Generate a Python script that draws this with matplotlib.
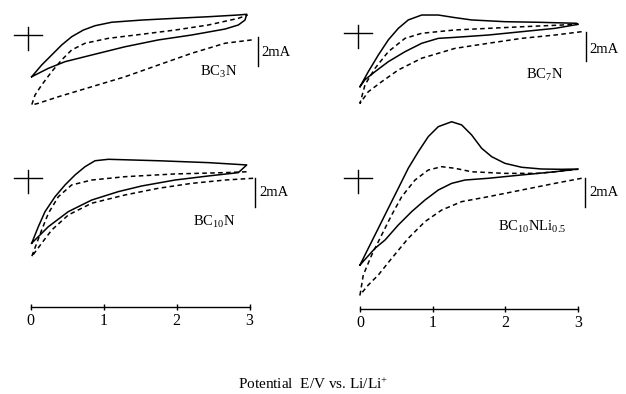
import matplotlib
matplotlib.use("Agg")
import matplotlib.pyplot as plt

plt.rcParams['font.family'] = 'Liberation Serif'
plt.rcParams['mathtext.fontset'] = 'custom'
plt.rcParams['mathtext.rm'] = 'Liberation Serif'
plt.rcParams['mathtext.it'] = 'Liberation Serif:italic'
plt.rcParams['mathtext.default'] = 'rm'

# ---------- Data (potential in V, current in mA relative to the "+" marker) ----------

# BC3N
bc3n_solid_v = [0.016, 0.153, 0.290, 0.427, 0.564, 0.723, 0.884, 1.112, 1.523, 1.979, 2.436, 2.847, 2.962,
                2.938, 2.847, 2.664, 2.208, 1.751, 1.295, 0.838, 0.473, 0.244, 0.016]
bc3n_solid_i = [-2.88, -2.07, -1.38, -0.69, -0.12, 0.34, 0.64, 0.88, 1.03, 1.15, 1.26, 1.38, 1.43,
                1.03, 0.69, 0.41, 0.0, -0.34, -0.81, -1.38, -1.84, -2.30, -2.88]
bc3n_dash_v = [3.03, 2.664, 2.208, 1.751, 1.295, 0.838, 0.381, 0.107, 0.016,
               0.062, 0.153, 0.290, 0.427, 0.564, 0.747, 1.066, 1.523, 1.979, 2.436, 2.847, 2.975]
bc3n_dash_i = [-0.34, -0.57, -1.26, -2.07, -2.88, -3.57, -4.26, -4.71, -4.83,
               -4.14, -3.45, -2.53, -1.72, -1.03, -0.57, -0.23, 0.05, 0.34, 0.69, 1.15, 1.38]

# BC7N
bc7n_solid_v = [0.0, 0.114, 0.252, 0.389, 0.527, 0.664, 0.849, 1.077, 1.307, 1.536, 1.995, 2.453, 2.981,
                3.003, 2.682, 2.224, 1.765, 1.307, 1.077, 0.849, 0.619, 0.389, 0.206, 0.069, 0.0]
bc7n_solid_i = [-3.70, -2.67, -1.52, -0.48, 0.32, 0.90, 1.24, 1.24, 1.06, 0.90, 0.78, 0.74, 0.67,
                0.60, 0.32, 0.09, -0.14, -0.30, -0.37, -0.71, -1.29, -1.98, -2.67, -3.22, -3.70]
bc7n_dash_v = [3.05, 2.682, 2.224, 1.765, 1.307, 0.849, 0.527, 0.298, 0.114, 0.0,
               0.069, 0.206, 0.389, 0.619, 0.849, 1.307, 1.765, 2.224, 3.003]
bc7n_dash_i = [0.09, -0.14, -0.37, -0.71, -1.06, -1.74, -2.55, -3.36, -4.05, -4.85,
               -3.57, -2.44, -1.29, -0.37, -0.02, 0.21, 0.32, 0.43, 0.60]

# BC10N
bc10n_solid_v = [0.016, 0.107, 0.199, 0.336, 0.473, 0.610, 0.747, 0.884, 1.066, 1.751, 2.436, 2.962,
                 2.847, 2.436, 1.979, 1.523, 1.203, 0.838, 0.518, 0.244, 0.016]
bc10n_solid_i = [-4.50, -3.36, -2.32, -1.29, -0.48, 0.21, 0.78, 1.19, 1.29, 1.19, 1.06, 0.90,
                 0.37, 0.14, -0.14, -0.55, -0.94, -1.52, -2.32, -3.36, -4.50]
bc10n_dash_v = [3.05, 2.664, 2.208, 1.751, 1.295, 0.838, 0.518, 0.290, 0.153, 0.016,
                0.085, 0.153, 0.244, 0.381, 0.564, 0.838, 1.295, 1.979, 2.664, 2.962]
bc10n_dash_i = [-0.02, -0.14, -0.37, -0.71, -1.17, -1.74, -2.55, -3.59, -4.50, -5.43,
                -4.50, -3.59, -2.44, -1.29, -0.48, -0.14, 0.09, 0.28, 0.37, 0.43]

# BC10NLi0.5
bcli_solid_v = [0.0, 0.114, 0.252, 0.389, 0.527, 0.664, 0.802, 0.939, 1.077, 1.261, 1.399, 1.536,
                1.674, 1.812, 1.995, 2.224, 2.499, 2.774, 3.003,
                2.682, 2.224, 1.765, 1.444, 1.261, 1.077, 0.894, 0.711, 0.527, 0.344, 0.206, 0.0]
bcli_solid_i = [-6.00, -4.85, -3.47, -2.09, -0.71, 0.67, 1.81, 2.85, 3.54, 3.88, 3.66, 2.97,
                2.05, 1.47, 1.01, 0.74, 0.62, 0.60, 0.62,
                0.43, 0.21, -0.02, -0.14, -0.37, -0.83, -1.52, -2.32, -3.24, -4.28, -4.85, -6.00]
bcli_dash_v = [3.05, 2.682, 2.224, 1.765, 1.399, 1.124, 0.894, 0.664, 0.436, 0.252, 0.114, 0.0,
               0.045, 0.161, 0.298, 0.436, 0.574, 0.757, 0.939, 1.124, 1.307, 1.536, 1.995, 2.453, 3.003]
bcli_dash_i = [-0.02, -0.37, -0.83, -1.29, -1.63, -2.21, -3.01, -4.16, -5.54, -6.69, -7.38, -8.07,
               -6.69, -5.31, -3.93, -2.55, -1.29, -0.14, 0.55, 0.78, 0.67, 0.43, 0.32, 0.32, 0.60]

names = ["BC$_3$N", "BC$_7$N", "BC$_{10}$N", "BC$_{10}$NLi$_{0.5}$"]
x_ticks = [0, 1, 2, 3]
x_label = "Potential  E/V vs. Li/Li$^{+}$"

# ---------- Layout (pixels of the 626x394 canvas) ----------
W, H = 626, 394
K = 14.5  # px per mA

fig = plt.figure(figsize=(W / 100, H / 100), dpi=100)


def make_panel(x0, x3, ytop, ybot, yc):
    ax = fig.add_axes([x0 / W, 1 - ybot / H, (x3 - x0) / W, (ybot - ytop) / H])
    ax.set_xlim(0, 3)
    ax.set_ylim((yc - ybot) / K, (yc - ytop) / K)
    for s in ax.spines.values():
        s.set_visible(False)
    ax.set_xticks([])
    ax.set_yticks([])
    ax.patch.set_alpha(0)
    return ax


panels = [
    dict(box=(30.5, 249.5, 5, 120, 35), solid=(bc3n_solid_v, bc3n_solid_i),
         dash=(bc3n_dash_v, bc3n_dash_i), lab=(2.32, -2.55), bar=(3.12, -0.14), txt=(3.16, -1.2), cx=-0.034),
    dict(box=(360, 578, 5, 120, 33), solid=(bc7n_solid_v, bc7n_solid_i),
         dash=(bc7n_dash_v, bc7n_dash_i), lab=(2.28, -2.9), bar=(3.11, 0.07), txt=(3.16, -1.17), cx=-0.03),
    dict(box=(30.5, 249.5, 120, 307, 178), solid=(bc10n_solid_v, bc10n_solid_i),
         dash=(bc10n_dash_v, bc10n_dash_i), lab=(2.23, -3.03), bar=(3.08, 0.0), txt=(3.13, -1.03), cx=-0.034),
    dict(box=(360, 578, 120, 309, 178), solid=(bcli_solid_v, bcli_solid_i),
         dash=(bcli_dash_v, bcli_dash_i), lab=(1.90, -3.38), bar=(3.09, 0.0), txt=(3.16, -0.97), cx=-0.03),
]

for n, p in enumerate(panels):
    ax = make_panel(*p["box"])
    ax.plot(*p["solid"], color="black", lw=1.1, clip_on=False, solid_joinstyle="round")
    ax.plot(*p["dash"], color="black", lw=1.1, ls=(0, (3, 2.2)), clip_on=False)

    # "+" marker showing zero current
    cx = p["cx"]
    ax.plot([cx - 0.19, cx + 0.19], [0, 0], color="black", lw=1.0, clip_on=False)
    ax.plot([cx, cx], [0.55, -1.0], color="black", lw=1.0, clip_on=False)

    # 2 mA scale bar
    bx, by = p["bar"]
    ax.plot([bx, bx], [by, by - 2], color="black", lw=1.0, clip_on=False)
    ax.text(p["txt"][0], p["txt"][1], "2mA", fontsize=10.5, ha="left", va="center")

    ax.text(p["lab"][0], p["lab"][1], names[n], fontsize=10.5, ha="left", va="center")

    if n >= 2:
        ax.spines["bottom"].set_visible(True)
        ax.spines["bottom"].set_linewidth(1.0)
        ax.set_xticks(x_ticks)
        ax.set_xticklabels([str(t) for t in x_ticks])
        ax.tick_params(axis="x", direction="inout", length=5, width=1.0,
                       labelsize=11.5, pad=2)

fig.text(313 / W, 1 - 384 / H, x_label, fontsize=11, ha="center", va="center")

fig.savefig("out.png", dpi=100)
